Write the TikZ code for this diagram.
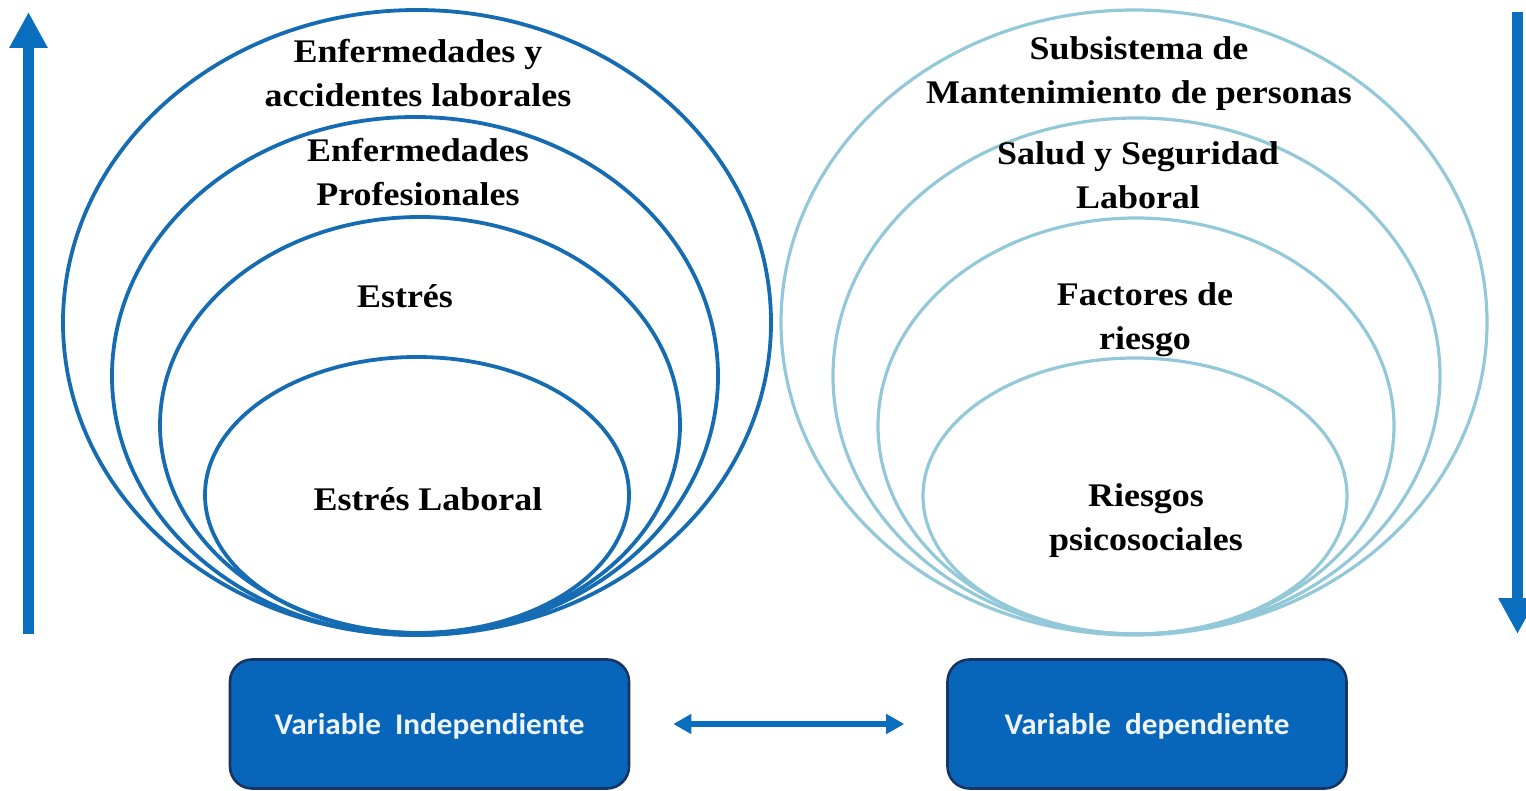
\documentclass[tikz,border=0pt]{standalone}
\usepackage{fontspec}
\setmainfont{Liberation Serif}
\newfontfamily\ringfont[FakeStretch=1.09]{Liberation Serif}
\newfontfamily\boxfont[FakeStretch=1.04]{Carlito}
\usetikzlibrary{arrows.meta}
\definecolor{deepblue}{RGB}{22,108,178}
\definecolor{paleblue}{RGB}{146,200,216}
\definecolor{arrowblue}{RGB}{10,110,190}
\definecolor{boxfill}{RGB}{8,102,186}
\definecolor{boxedge}{RGB}{24,52,100}
\definecolor{boxtext}{RGB}{236,243,250}
\tikzset{
  ringL/.style={draw=deepblue, line width=3.8pt},
  ringR/.style={draw=paleblue, line width=3.2pt},
  label/.style={font=\ringfont\fontsize{33}{44}\selectfont\bfseries, align=center, inner sep=0pt},
  varbox/.style={draw=boxedge, line width=2.6pt, fill=boxfill, rounded corners=22pt,
    minimum width=399pt, minimum height=129pt, inner sep=0pt,
    text height=20pt, text depth=0pt,
    text=boxtext, font=\boxfont\fontsize{30}{34}\selectfont\bfseries},
  bigarrow/.style={draw=arrowblue, line width=10.5pt, -{Triangle[length=36pt, width=36pt]}},
  linkarrow/.style={draw=arrowblue, line width=6pt, {Triangle[length=18pt, width=19pt]}-{Triangle[length=18pt, width=19pt]}}
}
\begin{document}
\begin{tikzpicture}[x=1pt, y=-1pt]
\useasboundingbox (0,0) rectangle (1526,791);

% independent-variable rings (nested, sharing the bottom point)
\draw[ringL] (417,322.5) ellipse [x radius=354, y radius=312.5];
\draw[ringL] (415,376) ellipse [x radius=303, y radius=259];
\draw[ringL] (420,425) ellipse [x radius=260, y radius=208];
\draw[ringL] (417,495) ellipse [x radius=212, y radius=138];

% dependent-variable rings
\draw[ringR] (1134,322.5) ellipse [x radius=353, y radius=312.5];
\draw[ringR] (1136.5,376) ellipse [x radius=303.5, y radius=258];
\draw[ringR] (1136,426) ellipse [x radius=258, y radius=208];
\draw[ringR] (1135,496) ellipse [x radius=212, y radius=138];

% ring labels
\node[label] (l1) at (418,73) {Enfermedades y\\accidentes laborales};
\node[label] (l2) at (418,172) {Enfermedades\\Profesionales};
\node[label] (l3) at (405,296) {Estrés};
\node[label] (l4) at (428,499) {Estrés Laboral};

\node[label] (r1) at (1139,74) {Subsistema de\\Mantenimiento de personas};
\node[label] (r2) at (1138,175) {Salud y Seguridad\\Laboral};
\node[label] (r3) at (1145,320) {Factores de\\riesgo};
\node[label] (r4) at (1146,521) {Riesgos\\psicosociales};

% side arrows
\coordinate (upfoot) at (28.5,634);
\coordinate (uptip) at (28.5,12);
\coordinate (downtop) at (1517.5,12);
\coordinate (downtip) at (1517.5,634);
\draw[bigarrow] (upfoot) -- (uptip);
\draw[bigarrow] (downtop) -- (downtip);

% variable boxes
\node[varbox] (vi) at (429.5,724) {Variable\ \ Independiente};
\node[varbox] (vd) at (1147,724) {Variable\ \ dependiente};
\draw[linkarrow, shorten <=43pt, shorten >=42pt] (vi.east) -- (vd.west);
\end{tikzpicture}
\end{document}
